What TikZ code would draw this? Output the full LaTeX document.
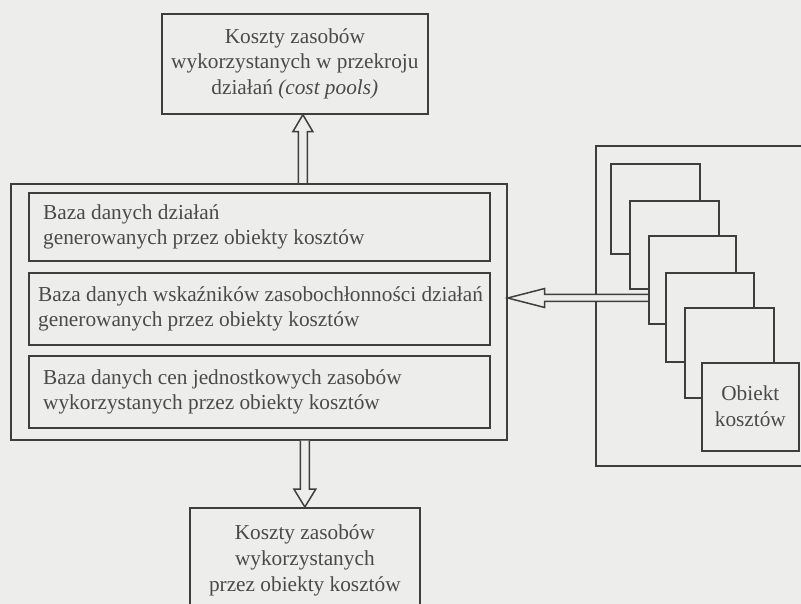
\documentclass[tikz,border=0pt]{standalone}
\usepackage{fontspec}
\setmainfont{Liberation Serif}
\usetikzlibrary{calc}
\definecolor{paper}{RGB}{237,237,236}
\definecolor{ink}{RGB}{62,62,62}
\definecolor{txt}{RGB}{74,74,74}
\tikzset{
  box/.style={draw=ink, line width=1.7pt, fill=paper, inner sep=0pt, anchor=north west},
  label/.style={text=txt, inner sep=0pt, font=\fontsize{21.3}{25.8}\selectfont},
  blockarrow/.style={draw=ink, line width=1.5pt, fill=paper, line join=miter},
}
\begin{document}
\begin{tikzpicture}[x=1pt, y=-1pt]
  % page area
  \fill[paper] (0,0) rectangle (801,604);
  \useasboundingbox (0,0) rectangle (801,604);

  % cost pools box
  \node[box, minimum width=266pt, minimum height=100pt] (top) at (161,13) {};
  \node[label, align=center] (topt) at (top.center) {Koszty zasobów\\wykorzystanych w przekroju\\działań \textit{(cost pools)}};

  % databases
  \node[box, minimum width=496pt, minimum height=256pt] (outer) at (10,183) {};
  \node[box, minimum width=461pt, minimum height=68pt] (b1) at (28,192) {};
  \node[box, minimum width=461pt, minimum height=72pt] (b2) at (28,272) {};
  \node[box, minimum width=461pt, minimum height=72pt] (b3) at (28,355) {};
  \node[label, align=left, anchor=west] (b1t) at ([xshift=15pt]b1.west) {Baza danych działań\\generowanych przez obiekty kosztów};
  \node[label, align=left, anchor=west] (b2t) at ([xshift=10pt]b2.west) {Baza danych wskaźników zasobochłonności działań\\generowanych przez obiekty kosztów};
  \node[label, align=left, anchor=west] (b3t) at ([xshift=15pt]b3.west) {Baza danych cen jednostkowych zasobów\\wykorzystanych przez obiekty kosztów};

  % resource costs per cost object
  \node[box, minimum width=230pt, minimum height=101pt] (bottom) at (189,507) {};
  \node[label, align=center] (bottomt) at ([yshift=-2pt]bottom.center) {Koszty zasobów\\wykorzystanych\\przez obiekty kosztów};

  % cost objects frame and stacked sheets
  \node[box, minimum width=260pt, minimum height=320pt] (frame) at (595,145) {};

  % arrow from the cost objects into the databases
  \coordinate (lTip) at (outer.east |- 0,298);
  \coordinate (lEnd) at (648,298);
  \draw[blockarrow] let \p1=(lTip), \p2=(lEnd) in
    (\x2,\y1+3.5pt) -- (\x1+37pt,\y1+3.5pt) -- (\x1+37pt,\y1+9.5pt) -- (\x1,\y1)
    -- (\x1+37pt,\y1-9.5pt) -- (\x1+37pt,\y1-3.5pt) -- (\x2,\y1-3.5pt);

  \node[box, minimum width=89pt, minimum height=90pt] (p1) at (610,163) {};
  \node[box, minimum width=89pt, minimum height=88pt] (p2) at (629,200) {};
  \node[box, minimum width=87pt, minimum height=88pt] (p3) at (648,235) {};
  \node[box, minimum width=88pt, minimum height=89pt] (p4) at (665,272) {};
  \node[box, minimum width=89pt, minimum height=90pt] (p5) at (684,307) {};
  \node[box, minimum width=97pt, minimum height=88pt] (p6) at (701,362) {};
  \node[label, align=center] (p6t) at ([yshift=1pt]p6.center) {Obiekt\\kosztów};

  % arrow up to the cost pools
  \coordinate (upTip) at ($(top.south west)!0.53!(top.south east)$);
  \draw[blockarrow] let \p1=(upTip), \p2=(outer.north) in
    (\x1-4.5pt,\y2) -- (\x1-4.5pt,\y1-17pt) -- (\x1-10pt,\y1-17pt) -- (\x1,\y1)
    -- (\x1+10pt,\y1-17pt) -- (\x1+4.5pt,\y1-17pt) -- (\x1+4.5pt,\y2);

  % arrow down to the resource costs
  \draw[blockarrow] let \p1=(outer.south), \p2=(bottom.north) in
    (\x2-4.5pt,\y1) -- (\x2-4.5pt,\y2+18pt) -- (\x2-11pt,\y2+18pt) -- (\x2,\y2)
    -- (\x2+11pt,\y2+18pt) -- (\x2+4.5pt,\y2+18pt) -- (\x2+4.5pt,\y1);
\end{tikzpicture}
\end{document}
